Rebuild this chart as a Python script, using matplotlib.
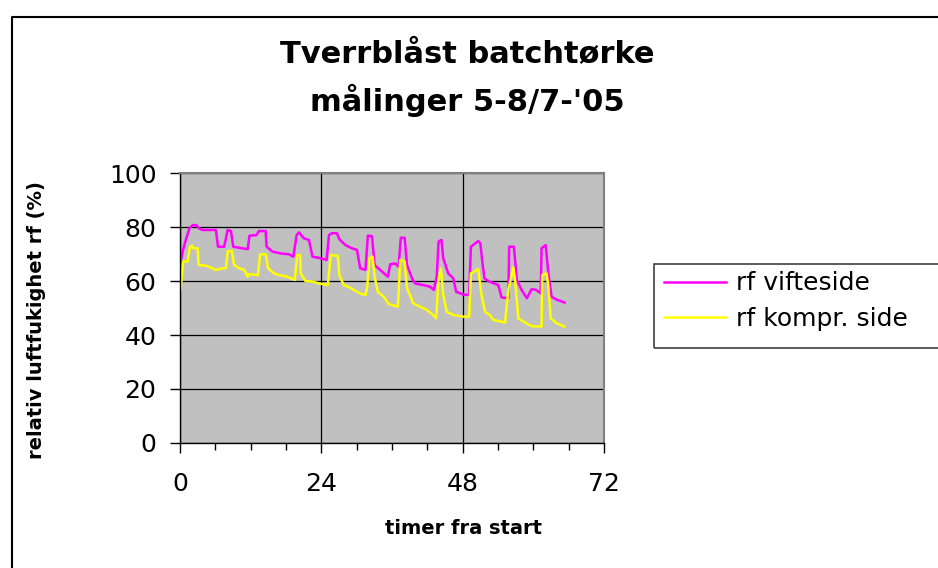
#!/usr/bin/env python3
"""
Tverrblåst batchtørke - relativ luftfuktighet, målinger 5-8/7-'05.
Writes: out.png
"""

import matplotlib.pyplot as plt
from matplotlib.lines import Line2D
from matplotlib.patches import Rectangle
from matplotlib.ticker import MultipleLocator

# timer fra start / rf (%) - vifteside
t_vifte = [0.1, 0.45, 0.9, 1.6, 2.15, 2.8, 3.2, 3.85, 6.1, 6.45, 7.5, 8.1, 8.65,
           9.05, 10.6, 11.5, 11.8, 13.0, 13.4, 14.55, 14.7, 15.7, 17.1, 18.5,
           19.25, 19.8, 20.2, 21.05, 21.9, 22.5, 23.9, 24.9, 25.3, 25.8, 26.65,
           27.05, 28.1, 29.2, 30.05, 30.6, 31.5, 31.9, 32.6, 33.05, 34.3, 35.3,
           35.7, 36.55, 37.1, 37.5, 38.15, 38.55, 39.4, 39.9, 41.3, 42.45, 43.1,
           43.6, 43.9, 44.4, 44.7, 45.55, 46.4, 46.9, 48.1, 49.1, 49.4, 50.65,
           51.0, 51.4, 51.7, 52.6, 54.05, 54.6, 55.75, 55.9, 56.7, 57.2, 58.0,
           58.9, 59.7, 60.5, 61.25, 61.4, 62.1, 62.55, 63.1, 64.0, 64.5, 65.3]
rf_vifte = [67, 70.9, 74.6, 79.5, 80.7, 80.7, 79.5, 78.9, 78.9, 72.7, 72.7, 78.9,
            78.5, 72.7, 72.1, 71.8, 76.8, 77, 78.5, 78.5, 72.7, 70.9, 70.2, 69.9,
            69, 77, 78, 75.8, 75.2, 69, 68.4, 67.8, 77, 77.7, 77.7, 75.5, 73.3,
            72.1, 71.5, 64.7, 64.1, 76.8, 76.6, 65.9, 63.5, 61.6, 66.2, 66.5,
            65.3, 76, 76, 65.9, 61, 59.1, 58.5, 57.9, 56.7, 61.6, 74.6, 75.2,
            68.4, 62.8, 61, 56, 55, 54.8, 72.7, 74.8, 74, 66, 61, 59.7, 58.5,
            53.9, 53.6, 72.7, 72.7, 60.4, 56.7, 53.6, 57, 56.7, 55.4, 72.1, 73.3,
            62.8, 54.2, 53, 52.7, 52]

# timer fra start / rf (%) - kompressorside
t_kompr = [0.1, 0.35, 0.55, 1.3, 1.7, 2.05, 2.25, 3.0, 3.15, 4.4, 5.3, 6.1, 7.25,
           7.8, 8.1, 8.8, 9.2, 10.05, 10.9, 11.5, 11.65, 13.25, 13.6, 14.55,
           14.95, 16.0, 16.8, 18.2, 19.5, 19.9, 20.4, 20.5, 21.3, 22.5, 23.6,
           25.1, 25.6, 26.8, 27.05, 27.8, 28.9, 30.05, 30.6, 31.5, 31.8, 32.15,
           32.7, 33.05, 33.6, 34.6, 35.45, 37.0, 37.4, 38.15, 38.55, 39.05, 39.6,
           40.75, 41.9, 43.0, 43.5, 43.9, 44.3, 44.7, 45.3, 46.4, 48.1, 49.1,
           49.4, 50.65, 51.2, 51.8, 52.6, 53.2, 55.2, 55.75, 56.6, 56.9, 57.45,
           58.6, 59.7, 61.4, 61.5, 62.25, 62.55, 62.95, 64.0, 65.3]
rf_kompr = [56.7, 62.8, 67.2, 67.2, 72.7, 73.1, 72.1, 72.1, 65.9, 65.7, 64.9, 64.1,
            64.7, 64.7, 71.1, 71.1, 65.9, 64.7, 64.1, 61.6, 62.5, 62.2, 69.9,
            69.9, 64.7, 62.8, 62.2, 61.6, 60.4, 69.6, 69.6, 62.8, 60, 59.8, 59.1,
            58.5, 69.6, 69.3, 62.2, 58.5, 57.5, 56, 55.4, 54.8, 57.9, 68.4, 69,
            61.6, 56, 54.2, 51.4, 50.5, 67.8, 67.2, 57.3, 54.8, 51.7, 50.5, 49.3,
            47.4, 46.2, 60.4, 64.7, 54.8, 48.6, 47.4, 46.8, 46.8, 62.8, 64.4,
            54.8, 48.6, 47.4, 45.6, 44.6, 56.7, 65, 60.4, 46.2, 44.6, 43.3, 43.1,
            62.2, 62.8, 57.9, 46.2, 44.3, 43.1]

labels = ["rf vifteside", "rf kompr. side"]
x_ticks = [0, 24, 48, 72]
y_ticks = [0, 20, 40, 60, 80, 100]

W, H = 938, 568
fig = plt.figure(figsize=(W / 100, H / 100), dpi=100)
ax = fig.add_axes([180 / W, 1 - 443 / H, 424 / W, 270 / H])
ax.set_facecolor("#c0c0c0")

ax.plot(t_vifte, rf_vifte, color="#ff00ff", lw=1.8, label=labels[0])
ax.plot(t_kompr, rf_kompr, color="#ffff00", lw=1.8, label=labels[1])

ax.set_xlim(0, 72)
ax.set_ylim(0, 100)
ax.set_xticks(x_ticks)
ax.set_yticks(y_ticks)
ax.xaxis.set_minor_locator(MultipleLocator(6))
ax.grid(True, color="black", lw=0.9)
ax.set_axisbelow(True)

for side in ("top", "right"):
    ax.spines[side].set_color("#808080")
    ax.spines[side].set_linewidth(1.5)
for side in ("left", "bottom"):
    ax.spines[side].set_color("black")
    ax.spines[side].set_linewidth(1.0)

ax.tick_params(axis="both", which="major", direction="out", length=7,
               width=1, labelsize=18, colors="black")
ax.tick_params(axis="x", which="major", pad=14)
ax.tick_params(axis="y", which="major", pad=10)
ax.tick_params(axis="x", which="minor", direction="out", length=5, width=1)

# titles and axis labels
fig.text(467 / W, 1 - 55 / H, "Tverrblåst batchtørke", ha="center",
         va="center", fontsize=22, fontweight="bold")
fig.text(467 / W, 1 - 100 / H, "målinger 5-8/7-'05", ha="center",
         va="center", fontsize=22, fontweight="bold")
fig.text(463 / W, 1 - 528 / H, "timer fra start", ha="center", va="center",
         fontsize=14, fontweight="bold")
fig.text(36 / W, 1 - 320 / H, "relativ luftfukighet rf (%)", ha="center",
         va="center", rotation=90, fontsize=14, fontweight="bold")

# legend box (runs off the right edge like the original)
fig.patches.append(Rectangle((654 / W, 1 - 348 / H), 300 / W, 84 / H,
                             transform=fig.transFigure, fill=False,
                             edgecolor="#404040", lw=1.2))
fig.legend(loc="upper left", bbox_to_anchor=(656 / W, 1 - 264 / H),
           frameon=False, fontsize=18, handlelength=2.5, handletextpad=0.4,
           labelspacing=0.45, borderpad=0.3, borderaxespad=0)

# outer chart frame (cut by the image border on the right and bottom)
fig.lines.append(Line2D([12 / W, 12 / W, 1.01], [-0.01, 1 - 17 / H, 1 - 17 / H],
                        transform=fig.transFigure, color="black", lw=1.5))

fig.savefig("out.png", dpi=100)
